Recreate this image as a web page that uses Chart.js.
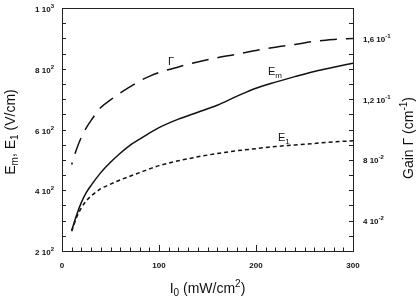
<!DOCTYPE html>
<html>
<head>
<meta charset="utf-8">
<script src="https://cdn.jsdelivr.net/npm/chart.js@4/dist/chart.umd.min.js"></script>
<style>
html,body{margin:0;padding:0;background:#fff;}
#wrap{width:419px;height:300px;}
</style>
</head>
<body>
<div id="wrap"><canvas id="c" width="419" height="300"></canvas></div>
<script>
// ---- data ----
const intensity = [10,15,20,25,30,40,50,60,70,80,90,100,120,140,160,180,200,220,240,260,280,300];
const emValues  = [268,318,360,392,416,458,492,522,548,568,588,606,634,657,680,709,736,756,774,791,805,818];
const e1Values  = [265,310,342,365,381,405,420,434,446,458,470,481,497,510,521,530,537,544,549,554,559,563];
const gainValues = [0.077,0.087,0.095,0.101,0.106,0.1145,0.1195,0.124,0.128,0.132,0.135,0.1375,0.1412,0.1445,0.1472,0.1495,0.152,0.1542,0.156,0.158,0.1592,0.160];

const xTickValues = [0,100,200,300];
const xTickLabels = ["0","100","200","300"];
const leftTickValues = [200,400,600,800,1000];
const leftTickMantissa = ["2","4","6","8","1"];
const leftTickExponent = ["2","2","2","2","3"];
const rightTickValues = [0.04,0.08,0.12,0.16];
const rightTickMantissa = ["4","8","1,2","1,6"];
const rightTickExponent = ["-2","-2","-1","-1"];

const FONT = '"Liberation Sans", Arial, Helvetica, sans-serif';

function pts(xs, ys){ return xs.map((x,i)=>({x:x, y:ys[i]})); }

function richWidth(ctx, parts){
  let w = 0;
  for (const p of parts){ ctx.font = (p.bold?'bold ':'') + p.size + 'px ' + FONT; w += ctx.measureText(p.t).width; }
  return w;
}
function drawRich(ctx, parts, x, y, align){
  const w = richWidth(ctx, parts);
  let cx = x;
  if (align === 'center') cx = x - w/2;
  else if (align === 'right') cx = x - w;
  ctx.textAlign = 'left';
  ctx.textBaseline = 'alphabetic';
  for (const p of parts){
    ctx.font = (p.bold?'bold ':'') + p.size + 'px ' + FONT;
    ctx.fillText(p.t, cx, y + (p.dy||0));
    cx += ctx.measureText(p.t).width;
  }
}

const framePlugin = {
  id: 'framePlugin',
  afterDraw(chart){
    const ctx = chart.ctx;
    const a = chart.chartArea;
    const sx = chart.scales.x, sy = chart.scales.y, sy1 = chart.scales.y1;
    ctx.save();
    ctx.strokeStyle = '#222';
    ctx.fillStyle = '#111';
    ctx.lineWidth = 1;
    // frame
    ctx.strokeRect(Math.round(a.left)+0.5, Math.round(a.top)+0.5, Math.round(a.right-a.left), Math.round(a.bottom-a.top));
    // bottom ticks (inward)
    ctx.beginPath();
    for (let v = 0; v <= 300; v += 10){
      const px = Math.round(sx.getPixelForValue(v)) + 0.5;
      const len = (v % 100 === 0) ? 6 : 3.5;
      ctx.moveTo(px, a.bottom); ctx.lineTo(px, a.bottom - len);
    }
    // left ticks
    for (let v = 250; v < 1000; v += 50){
      const py = Math.round(sy.getPixelForValue(v)) + 0.5;
      ctx.moveTo(a.left, py); ctx.lineTo(a.left + 4, py);
    }
    // right ticks
    for (let k = 3; k < 18; k++){
      const py = Math.round(sy1.getPixelForValue(k/100)) + 0.5;
      ctx.moveTo(a.right, py); ctx.lineTo(a.right - 4, py);
    }
    ctx.stroke();

    // bottom tick labels
    xTickValues.forEach((v,i)=>{
      drawRich(ctx, [{t:xTickLabels[i], size:8, bold:true}], sx.getPixelForValue(v), a.bottom + 17, 'center');
    });
    // left tick labels
    leftTickValues.forEach((v,i)=>{
      const py = sy.getPixelForValue(v);
      drawRich(ctx, [
        {t:leftTickMantissa[i] + ' 10', size:8, bold:true},
        {t:leftTickExponent[i], size:6, bold:true, dy:-4}
      ], a.left - 8, py + 4, 'right');
    });
    // right tick labels
    rightTickValues.forEach((v,i)=>{
      const py = sy1.getPixelForValue(v);
      drawRich(ctx, [
        {t:rightTickMantissa[i] + ' 10', size:8, bold:true},
        {t:rightTickExponent[i], size:6, bold:true, dy:-4}
      ], a.right + 10, py + 3.5, 'left');
    });

    // x title
    drawRich(ctx, [
      {t:'I', size:14}, {t:'0', size:10, dy:3},
      {t:' (mW/cm', size:14}, {t:'2', size:10, dy:-6}, {t:')', size:14}
    ], (a.left + a.right)/2, 293, 'center');

    // left title
    ctx.save();
    ctx.translate(15, 132);
    ctx.rotate(-Math.PI/2);
    drawRich(ctx, [
      {t:'E', size:14}, {t:'m', size:10, dy:3},
      {t:', E', size:14}, {t:'1', size:10, dy:3},
      {t:' (V/cm)', size:14}
    ], 0, 0, 'center');
    ctx.restore();

    // right title
    ctx.save();
    ctx.translate(413, 138);
    ctx.rotate(-Math.PI/2);
    drawRich(ctx, [
      {t:'Gain \u0393 (cm', size:14}, {t:'-1', size:10, dy:-6}, {t:')', size:14}
    ], 0, 0, 'center');
    ctx.restore();

    // curve labels
    drawRich(ctx, [{t:'\u0393', size:11}], 168, 65, 'left');
    drawRich(ctx, [{t:'E', size:11}, {t:'m', size:8, dy:3}], 268, 75, 'left');
    drawRich(ctx, [{t:'E', size:11}, {t:'1', size:8, dy:3}], 278, 140.5, 'left');
    ctx.restore();
  }
};

new Chart(document.getElementById('c'), {
  type: 'line',
  data: {
    datasets: [
      { label:'Em', data: pts(intensity, emValues), yAxisID:'y', borderColor:'#111', borderWidth:1.5,
        pointRadius:0, fill:false, cubicInterpolationMode:'monotone' },
      { label:'E1', data: pts(intensity, e1Values), yAxisID:'y', borderColor:'#111', borderWidth:1.5,
        borderDash:[4,3], pointRadius:0, fill:false, cubicInterpolationMode:'monotone' },
      { label:'Gain', data: pts(intensity, gainValues), yAxisID:'y1', borderColor:'#111', borderWidth:1.5,
        borderDash:[17,9], borderDashOffset:15, pointRadius:0, fill:false, cubicInterpolationMode:'monotone' }
    ]
  },
  options: {
    responsive:false, animation:false, devicePixelRatio:1,
    layout:{ padding:{ top:8, left:0, right:0, bottom:0 } },
    plugins:{ legend:{display:false}, tooltip:{enabled:false}, title:{display:false} },
    scales:{
      x:{ type:'linear', min:0, max:300, position:'bottom',
          grid:{display:false}, border:{display:false}, ticks:{display:false},
          afterFit(s){ s.height = 49; } },
      y:{ type:'linear', min:200, max:1000, position:'left',
          grid:{display:false}, border:{display:false}, ticks:{display:false},
          afterFit(s){ s.width = 62; } },
      y1:{ type:'linear', min:0.02, max:0.18, position:'right',
          grid:{display:false}, border:{display:false}, ticks:{display:false},
          afterFit(s){ s.width = 66; } }
    }
  },
  plugins:[framePlugin]
});
</script>
</body>
</html>
